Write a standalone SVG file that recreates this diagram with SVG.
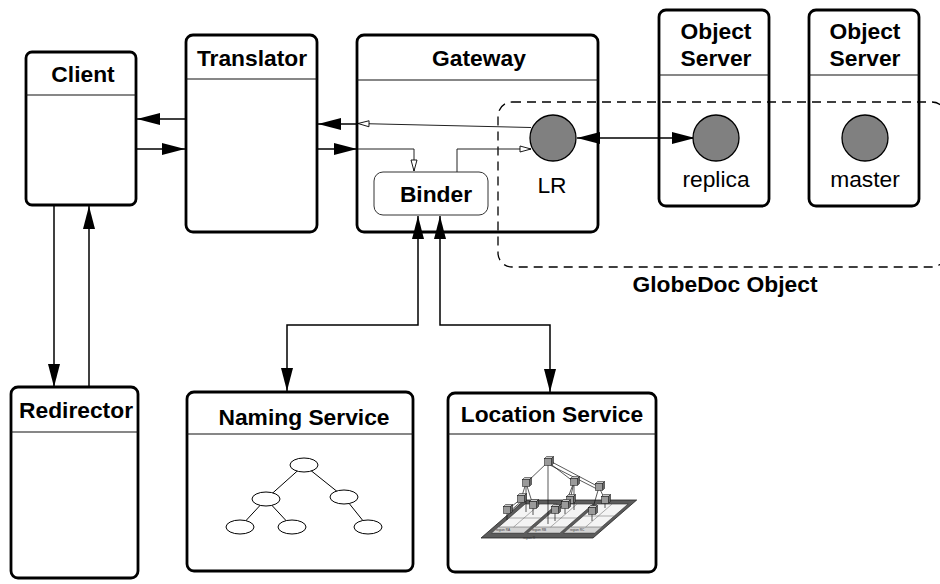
<svg xmlns="http://www.w3.org/2000/svg" xmlns:xlink="http://www.w3.org/1999/xlink" width="940" height="584" viewBox="0 0 940 584">
  <style>
    .box { fill: #fff; stroke: #000; stroke-width: 2.8; }
    .hdr { stroke: #111; stroke-width: 1.2; }
    .title { font-family: "Liberation Sans", Arial, Helvetica, sans-serif; font-weight: bold; font-size: 22.8px; text-anchor: middle; fill: #000; }
    .label { font-family: "Liberation Sans", Arial, Helvetica, sans-serif; font-size: 22.8px; text-anchor: middle; fill: #000; }
    .conn { fill: none; stroke: #000; stroke-width: 1.5; }
    .thin { fill: none; stroke: #222; stroke-width: 1; }
    .obj { fill: #808080; stroke: #000; stroke-width: 1.3; }
    .tree { fill: #fff; stroke: #000; stroke-width: 1; }
    .treeline { stroke: #000; stroke-width: 1; }
    .boundary { fill: none; stroke: #000; stroke-width: 1.3; stroke-dasharray: 9 6; }
    .tiny { font-family: "Liberation Sans", Arial, sans-serif; font-size: 3.2px; fill: #333; }
    .mini { stroke: #111; stroke-width: 0.7; fill: none; }
  </style>
  <defs>
    <marker id="solid" markerUnits="userSpaceOnUse" markerWidth="23" markerHeight="12" refX="23" refY="6" orient="auto-start-reverse" viewBox="0 0 23 12">
      <path d="M0,0 L23,6 L0,12 z" fill="#000"/>
    </marker>
    <marker id="hollow" markerUnits="userSpaceOnUse" markerWidth="13" markerHeight="8" refX="12" refY="4" orient="auto" viewBox="0 0 13 8">
      <path d="M1,1 L12,4 L1,7 z" fill="#fff" stroke="#000" stroke-width="0.9"/>
    </marker>
    <!-- small 3D cube used in the location-tree sketch -->
    <g id="cube">
      <path d="M-3.5,-3.5 L-1.5,-5.5 L5.5,-5.5 L3.5,-3.5 z" fill="#c8c8c8" stroke="#111" stroke-width="0.5"/>
      <path d="M3.5,-3.5 L5.5,-5.5 L5.5,1.5 L3.5,3.5 z" fill="#666" stroke="#111" stroke-width="0.5"/>
      <rect x="-3.5" y="-3.5" width="7" height="7" fill="#9a9a9a" stroke="#111" stroke-width="0.5"/>
    </g>
  </defs>

  <!-- nodes -->
  <g id="client">
    <rect class="box" x="26" y="52" width="110" height="153" rx="6"/>
    <line class="hdr" x1="26" y1="95" x2="136" y2="95"/>
    <text class="title" x="83" y="82">Client</text>
  </g>

  <g id="translator">
    <rect class="box" x="186" y="35" width="131" height="197" rx="7"/>
    <line class="hdr" x1="186" y1="79" x2="317" y2="79"/>
    <text class="title" x="252" y="66">Translator</text>
  </g>

  <g id="gateway">
    <rect class="box" x="357" y="35" width="241" height="197" rx="7"/>
    <line class="hdr" x1="357" y1="80" x2="598" y2="80"/>
    <text class="title" x="479" y="66">Gateway</text>
  </g>

  <g id="binder">
    <rect x="374" y="172" width="114" height="43" rx="9" fill="#fff" stroke="#333" stroke-width="1"/>
    <text class="title" x="436" y="202">Binder</text>
  </g>

  <g id="object-server-replica">
    <rect class="box" x="659" y="10" width="110" height="196" rx="7"/>
    <line class="hdr" x1="659" y1="75" x2="769" y2="75"/>
    <text class="title" x="716" y="39">Object</text>
    <text class="title" x="716" y="66">Server</text>
    <text class="label" x="716" y="187">replica</text>
  </g>

  <g id="object-server-master">
    <rect class="box" x="809" y="10" width="110" height="196" rx="7"/>
    <line class="hdr" x1="809" y1="75" x2="919" y2="75"/>
    <text class="title" x="865" y="39">Object</text>
    <text class="title" x="865" y="66">Server</text>
    <text class="label" x="865" y="187">master</text>
  </g>

  <g id="redirector">
    <rect class="box" x="11" y="387" width="127" height="191" rx="7"/>
    <line class="hdr" x1="11" y1="432" x2="138" y2="432"/>
    <text class="title" x="76" y="418">Redirector</text>
  </g>

  <g id="naming-service">
    <rect class="box" x="187" y="392" width="226" height="179" rx="7"/>
    <line class="hdr" x1="187" y1="434" x2="413" y2="434"/>
    <text class="title" x="304" y="425">Naming Service</text>
    <!-- name tree -->
    <line class="treeline" x1="304" y1="465" x2="266" y2="499"/>
    <line class="treeline" x1="304" y1="465" x2="344" y2="497"/>
    <line class="treeline" x1="266" y1="499" x2="240" y2="527"/>
    <line class="treeline" x1="266" y1="499" x2="292" y2="527"/>
    <line class="treeline" x1="344" y1="497" x2="368" y2="527"/>
    <ellipse class="tree" cx="304" cy="465" rx="14" ry="7"/>
    <ellipse class="tree" cx="266" cy="499" rx="14" ry="7"/>
    <ellipse class="tree" cx="344" cy="497" rx="14" ry="7"/>
    <ellipse class="tree" cx="240" cy="527" rx="14" ry="7"/>
    <ellipse class="tree" cx="292" cy="527" rx="14" ry="7"/>
    <ellipse class="tree" cx="368" cy="527" rx="14" ry="7"/>
  </g>

  <g id="location-service">
    <rect class="box" x="448" y="393" width="208" height="179" rx="7"/>
    <line class="hdr" x1="448" y1="434" x2="656" y2="434"/>
    <text class="title" x="552" y="422">Location Service</text>
    <!-- region plate, drawn in a skewed frame -->
    <g transform="translate(481,538) skewX(-49)">
      <rect x="0" y="-38" width="112" height="38" fill="#5c5c5c" stroke="#222" stroke-width="0.6"/>
      <rect x="5" y="-34" width="32" height="29" fill="#f4f4f4" stroke="#333" stroke-width="0.5"/>
      <rect x="41" y="-34" width="32" height="29" fill="#f4f4f4" stroke="#333" stroke-width="0.5"/>
      <rect x="77" y="-34" width="31" height="29" fill="#f4f4f4" stroke="#333" stroke-width="0.5"/>
      <rect x="5" y="-11" width="32" height="6" fill="#d4d4d4" stroke="#555" stroke-width="0.4"/>
      <rect x="41" y="-11" width="32" height="6" fill="#d4d4d4" stroke="#555" stroke-width="0.4"/>
      <rect x="77" y="-11" width="31" height="6" fill="#d4d4d4" stroke="#555" stroke-width="0.4"/>
      <line x1="5" y1="-20" x2="37" y2="-20" stroke="#666" stroke-width="0.4"/>
      <line x1="41" y1="-20" x2="73" y2="-20" stroke="#666" stroke-width="0.4"/>
      <line x1="77" y1="-22" x2="108" y2="-22" stroke="#666" stroke-width="0.4"/>
      <line x1="20" y1="-34" x2="20" y2="-11" stroke="#666" stroke-width="0.4"/>
      <line x1="57" y1="-34" x2="57" y2="-11" stroke="#666" stroke-width="0.4"/>
      <line x1="92" y1="-34" x2="92" y2="-11" stroke="#666" stroke-width="0.4"/>
    </g>
    <text class="tiny" x="496" y="531">region RA</text>
    <text class="tiny" x="532" y="531">region RB</text>
    <text class="tiny" x="570" y="531">region RC</text>
    <text class="tiny" x="523" y="538.5" fill="#000">region R</text>
    <!-- tree links -->
    <line class="mini" x1="548" y1="462" x2="548" y2="524"/>
    <line class="mini" x1="548" y1="462" x2="526" y2="483"/>
    <line class="mini" x1="548" y1="462" x2="574" y2="482"/>
    <line class="mini" x1="550" y1="461" x2="599" y2="487"/>
    <line class="mini" x1="548" y1="464" x2="597" y2="489"/>
    <line class="mini" x1="526" y1="483" x2="521" y2="499"/>
    <line class="mini" x1="526" y1="483" x2="533" y2="505"/>
    <line class="mini" x1="521" y1="499" x2="507" y2="510"/>
    <line class="mini" x1="523" y1="500" x2="509" y2="512"/>
    <line class="mini" x1="574" y1="482" x2="570" y2="500"/>
    <line class="mini" x1="574" y1="482" x2="565" y2="505"/>
    <line class="mini" x1="565" y1="505" x2="555" y2="510"/>
    <line class="mini" x1="599" y1="487" x2="605" y2="500"/>
    <line class="mini" x1="599" y1="487" x2="592" y2="511"/>
    <line class="mini" x1="507" y1="510" x2="507" y2="520"/>
    <line class="mini" x1="533" y1="505" x2="533" y2="515"/>
    <line class="mini" x1="555" y1="510" x2="555" y2="521"/>
    <line class="mini" x1="565" y1="505" x2="565" y2="514"/>
    <line class="mini" x1="592" y1="511" x2="592" y2="521"/>
    <line class="mini" x1="605" y1="500" x2="605" y2="508"/>
    <line class="mini" x1="526" y1="483" x2="526" y2="512"/>
    <line class="mini" x1="574" y1="482" x2="574" y2="510"/>
    <!-- tree nodes -->
    <use xlink:href="#cube" x="548" y="462"/>
    <use xlink:href="#cube" x="526" y="483"/>
    <use xlink:href="#cube" x="574" y="482"/>
    <use xlink:href="#cube" x="599" y="487"/>
    <use xlink:href="#cube" x="521" y="499"/>
    <use xlink:href="#cube" x="533" y="505"/>
    <use xlink:href="#cube" x="507" y="510"/>
    <use xlink:href="#cube" x="570" y="500"/>
    <use xlink:href="#cube" x="565" y="505"/>
    <use xlink:href="#cube" x="555" y="510"/>
    <use xlink:href="#cube" x="605" y="500"/>
    <use xlink:href="#cube" x="592" y="511"/>
  </g>

  <!-- distributed object boundary -->
  <g id="globedoc-object">
    <rect class="boundary" x="498" y="102" width="448" height="165" rx="14"/>
    <text class="title" x="725" y="292">GlobeDoc Object</text>
  </g>

  <!-- connectors -->
  <g id="connectors">
    <path class="conn" d="M186,119 L137,119" marker-end="url(#solid)"/>
    <path class="conn" d="M137,149 L185,149" marker-end="url(#solid)"/>
    <path class="conn" d="M357,124 L318,124" marker-end="url(#solid)"/>
    <path class="conn" d="M318,149 L357,149" marker-end="url(#solid)"/>
    <path class="thin" d="M531,127.5 L358,123.5" marker-end="url(#hollow)"/>
    <path class="thin" d="M358,149 L414,149 L414,171" marker-end="url(#hollow)"/>
    <path class="thin" d="M457,172 L457,149 L531,149" marker-end="url(#hollow)"/>
    <path class="conn" d="M577,138 L695,138" marker-start="url(#solid)" marker-end="url(#solid)"/>
    <path class="conn" d="M54,206 L54,387" marker-end="url(#solid)"/>
    <path class="conn" d="M89,387 L89,206" marker-end="url(#solid)"/>
    <path class="conn" d="M418,216 L418,325 L287,325 L287,391" marker-start="url(#solid)" marker-end="url(#solid)"/>
    <path class="conn" d="M440,216 L440,325 L550,325 L550,392" marker-start="url(#solid)" marker-end="url(#solid)"/>
  </g>

  <!-- object parts -->
  <g id="local-representative">
    <circle class="obj" cx="553" cy="138" r="23"/>
    <text class="label" x="552" y="193">LR</text>
  </g>
  <g id="replica-part">
    <circle class="obj" cx="716" cy="138" r="23"/>
  </g>
  <g id="master-part">
    <circle class="obj" cx="865" cy="138" r="23"/>
  </g>
</svg>
